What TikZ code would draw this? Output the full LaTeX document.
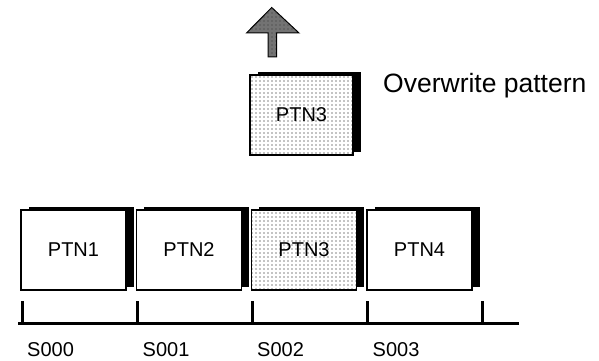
\documentclass[tikz,border=0pt]{standalone}
\usepackage{fontspec}
\setmainfont{Liberation Sans}
\usetikzlibrary{shadows,patterns.meta}
\tikzdeclarepattern{
  name=stipple, type=uncolored,
  bottom left={(-1pt,-1pt)}, top right={(3pt,3pt)}, tile size={(4pt,4pt)},
  code={\fill (0,0) circle (0.7pt);}
}
\tikzset{
  ptnbox/.style={draw=black, line width=1.1pt, fill=white,
    minimum width=105pt, minimum height=80pt, inner sep=0pt,
    font=\fontsize{20}{24}\selectfont,
    general shadow={fill=black, shadow xshift=7.5pt, shadow yshift=3.5pt}},
  dotted box/.style={ptnbox, postaction={pattern=stipple, pattern color=black}},
  slabel/.style={anchor=base west, inner sep=0pt, font=\fontsize{20}{24}\selectfont},
  axis/.style={line width=3pt, line cap=butt}
}
\begin{document}
\begin{tikzpicture}[x=1pt,y=-1pt]
\useasboundingbox (0,0) rectangle (599,361);
% overwrite arrow
\draw[fill=black!55, draw=black, line width=1pt, line join=miter,
      postaction={pattern=stipple, pattern color=black!80}]
  (271.7,7.5) -- (299,33) -- (276.5,33) -- (276.5,57) -- (268,57) -- (268,33) -- (246.5,33) -- cycle;
% top box
\node[dotted box, minimum width=103pt] (top) at (301.5,115) {PTN3};
\node[anchor=base west, inner sep=0pt, font=\fontsize{26.5}{30}\selectfont] (ow) at (383,92) {Overwrite pattern};
% bottom row
\node[ptnbox] (p1) at (73.5,250) {PTN1};
\node[ptnbox] (p2) at (189,250) {PTN2};
\node[dotted box] (p3) at (304,250) {PTN3};
\node[ptnbox] (p4) at (419.5,250) {PTN4};
% time axis
\coordinate (a0) at (18,323);
\coordinate (a1) at (519,323);
\foreach \i/\x in {0/22,1/137,2/252,3/367,4/482} {
  \coordinate (t\i) at (\x,323);
  \coordinate (u\i) at (\x,301);
}
\draw[axis] (a0) -- (a1);
\foreach \i in {0,...,4} { \draw[axis] (t\i) -- (u\i); }
\node[slabel] (s0) at (27,356.5) {S000};
\node[slabel] (s1) at (142.5,356.5) {S001};
\node[slabel] (s2) at (257,356.5) {S002};
\node[slabel] (s3) at (372.5,356.5) {S003};
\end{tikzpicture}
\end{document}
